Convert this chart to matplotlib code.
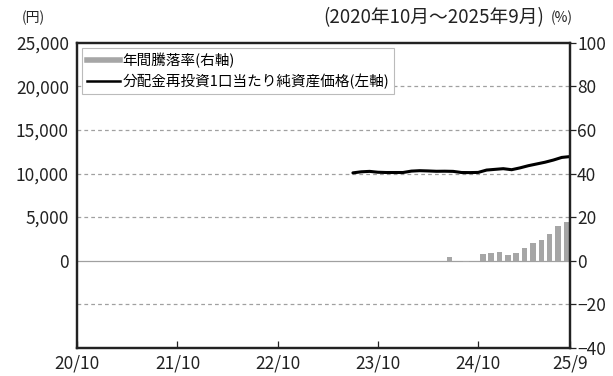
import matplotlib.pyplot as plt
from matplotlib.lines import Line2D
from matplotlib.ticker import FuncFormatter

plt.rcParams['font.family'] = ['Noto Sans CJK JP', 'DejaVu Sans']

# months from 2020/10 (index 0) to 2025/9 (index 59)
n_months = 60
tick_idx = [0, 12, 24, 36, 48, 59]
tick_labels = ['20/10', '21/10', '22/10', '23/10', '24/10', '25/9']

# NAV (distribution reinvested), left axis, from 2023/7
nav_start = 33
nav = [10080, 10200, 10250, 10150, 10120, 10120, 10120, 10280, 10330,
       10300, 10260, 10270, 10250, 10120, 10110, 10130, 10400, 10480,
       10560, 10440, 10650, 10900, 11100, 11300, 11550, 11850, 11950]

# annual return (%), right axis, from 2024/7
ret = [1.8, 0.0, -0.5, 0.0, 3.0, 3.6, 4.0, 2.6, 3.6, 6.0, 8.2, 9.7,
       12.4, 15.9, 17.6]

nav_x = list(range(nav_start, nav_start + len(nav)))
ret_x = [nav_x[0] + 12 + i for i in range(len(ret))]

fig = plt.figure(figsize=(6.13, 3.76), dpi=100)
ax = fig.add_axes([0.126, 0.075, 0.804, 0.811])
ax2 = ax.twinx()
ax.set_zorder(ax2.get_zorder() + 1)
ax.patch.set_visible(False)

# bars + grid on the right axis (behind the line)
ax2.bar([x - 0.45 for x in ret_x], ret, width=0.65, color='#a6a6a6', zorder=2)
for g in [-20, 20, 40, 60, 80]:
    ax2.axhline(g, color='#a0a0a0', lw=0.9, ls=(0, (3, 2.5)), zorder=1)
ax2.axhline(0, color='#a0a0a0', lw=0.9, zorder=1)
ax2.set_ylim(-40, 100)
ax2.set_yticks(range(-40, 101, 20))

# NAV line on the left axis
ax.plot(nav_x, nav, color='black', lw=2.2, solid_capstyle='round')
ax.set_ylim(-10000, 25000)
ax.set_yticks(range(0, 25001, 5000))
ax.yaxis.set_major_formatter(FuncFormatter(lambda v, p: f'{int(v):,}'))
ax.set_xlim(0, n_months - 1)
ax.set_xticks(tick_idx)
ax.set_xticklabels(tick_labels)

for a in (ax, ax2):
    for s in a.spines.values():
        s.set_linewidth(1.6)
        s.set_color('#222222')
ax.tick_params(axis='y', length=0, labelsize=12.5, pad=6, colors='#222222')
ax.tick_params(axis='x', direction='in', length=5, width=0.9, labelsize=12.5,
               pad=5, colors='#222222')
ax2.tick_params(axis='y', direction='out', length=4, width=0.9, labelsize=12.5,
                pad=1, colors='#222222')

handles = [Line2D([], [], color='#a6a6a6', lw=4),
           Line2D([], [], color='black', lw=1.8)]
labels = ['年間騰落率(右軸)', '分配金再投資1口当たり純資産価格(左軸)']
leg = ax.legend(handles, labels, loc='upper left', bbox_to_anchor=(0.0, 1.0),
                borderaxespad=0.35, fontsize=10.5, fancybox=False, framealpha=1,
                edgecolor='#bbbbbb', handlelength=2.2, handletextpad=0.2,
                labelspacing=0.35, borderpad=0.35)
leg.get_frame().set_linewidth(0.8)

fig.text(0.036, 0.952, '(円)', fontsize=10, color='#222222', va='center')
fig.text(0.888, 0.952, '(2020年10月～2025年9月)', fontsize=13.5,
         color='#222222', va='center', ha='right')
fig.text(0.898, 0.952, '(%)', fontsize=10, color='#222222', va='center')

fig.savefig('out.png', dpi=100)
